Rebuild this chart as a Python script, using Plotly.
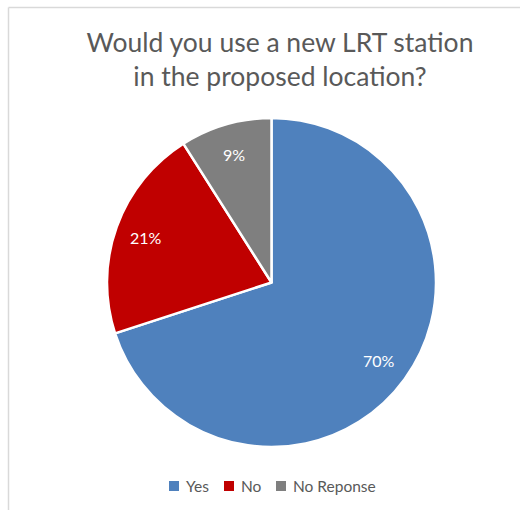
import math
import plotly.graph_objects as go

categories = ["Yes", "No", "No Reponse"]
shares = [70, 21, 9]
slice_colors = ["#4F81BD", "#C00000", "#7F7F7F"]

W, H = 520, 510
FONT = "Lato, 'Open Sans', sans-serif"
TEXT_GREY = "#595959"

# pie placement in pixels (left, right, top, bottom)
PIE_L, PIE_R, PIE_T, PIE_B = 107, 436, 118, 447
cx, cy = (PIE_L + PIE_R) / 2, (PIE_T + PIE_B) / 2
radius = (PIE_R - PIE_L) / 2

fig = go.Figure(
    go.Pie(
        labels=categories,
        values=shares,
        sort=False,
        direction="clockwise",
        rotation=0,
        marker=dict(colors=slice_colors, line=dict(color="white", width=2.5)),
        textinfo="none",
        hoverinfo="label+percent",
        showlegend=False,
        domain=dict(x=[PIE_L / W, PIE_R / W], y=[1 - PIE_B / H, 1 - PIE_T / H]),
    )
)

# percentage labels at the angular middle of each slice
annotations = []
total = sum(shares)
start = 0.0
for val in shares:
    mid = (start + val / 2) / total * 2 * math.pi
    start += val
    px = cx + 0.81 * radius * math.sin(mid)
    py = cy - 0.81 * radius * math.cos(mid)
    annotations.append(dict(
        x=px / W, y=1 - py / H, xref="paper", yref="paper",
        text=f"{val}%", showarrow=False, xanchor="center", yanchor="middle",
        font=dict(family=FONT, size=16, color="white"),
    ))

# legend row: square swatch followed by its label
shapes = []
legend_x = [169, 224, 276]
legend_y = 486
sw = 10
for name, col, lx in zip(categories, slice_colors, legend_x):
    shapes.append(dict(
        type="rect", xref="paper", yref="paper",
        x0=lx / W, x1=(lx + sw) / W,
        y0=1 - (legend_y + sw / 2) / H, y1=1 - (legend_y - sw / 2) / H,
        fillcolor=col, line=dict(width=0),
    ))
    annotations.append(dict(
        x=(lx + sw + 5) / W, y=1 - legend_y / H, xref="paper", yref="paper",
        text=name, showarrow=False, xanchor="left", yanchor="middle",
        font=dict(family=FONT, size=15.5, color=TEXT_GREY),
    ))

# chart-area frame
shapes += [
    dict(type="line", xref="paper", yref="paper",
         x0=8.5 / W, x1=1.05, y0=1 - 7.5 / H, y1=1 - 7.5 / H,
         line=dict(color="#D9D9D9", width=1.5)),
    dict(type="line", xref="paper", yref="paper",
         x0=8.5 / W, x1=8.5 / W, y0=-0.05, y1=1 - 7.5 / H,
         line=dict(color="#D9D9D9", width=1.5)),
]

fig.update_layout(
    width=W,
    height=H,
    margin=dict(l=0, r=0, t=0, b=0),
    paper_bgcolor="white",
    title=dict(
        text="Would you use a new LRT station<br>in the proposed location?",
        x=280 / W,
        xanchor="center",
        y=1 - 52 / H,
        yanchor="top",
        font=dict(family=FONT, size=26.5, color=TEXT_GREY),
    ),
    annotations=annotations,
    shapes=shapes,
)

fig.write_html("out.html")
